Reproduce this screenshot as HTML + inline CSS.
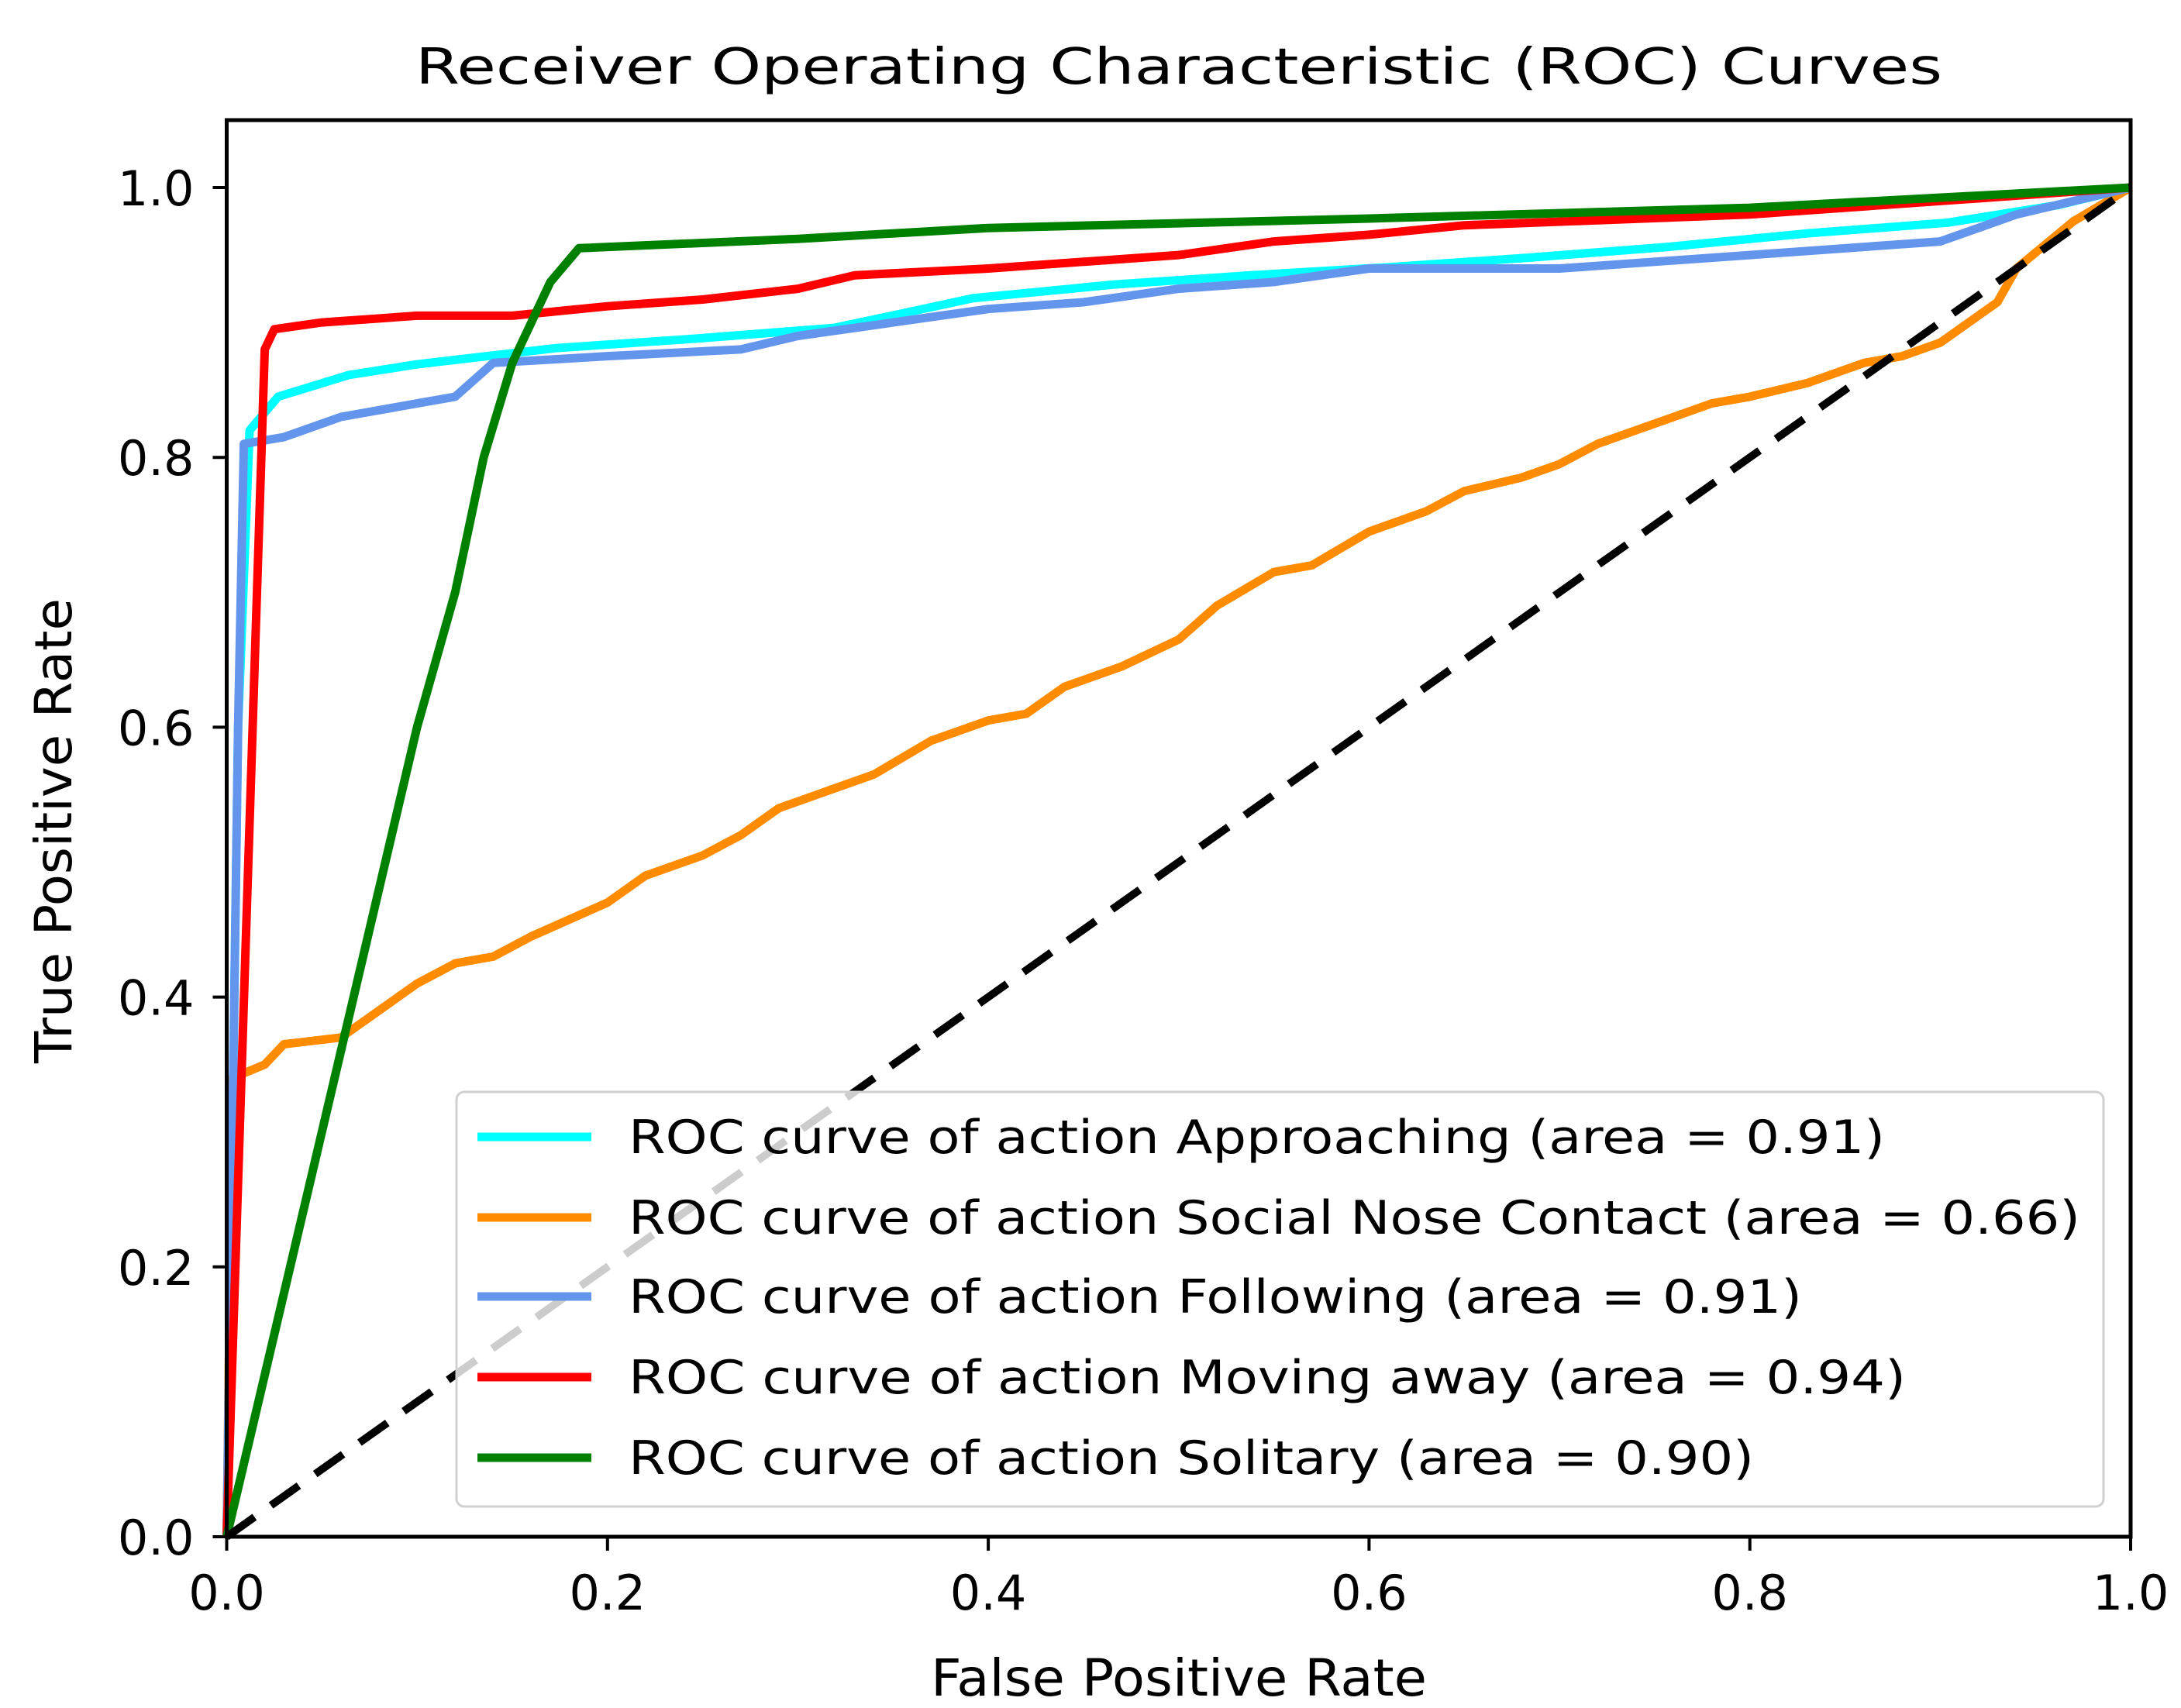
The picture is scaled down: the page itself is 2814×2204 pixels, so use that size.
<!DOCTYPE html>
<html><head><meta charset="utf-8"><style>
html,body{margin:0;padding:0;background:#fff;}
svg{display:block;font-family:"DejaVu Sans","Liberation Sans",sans-serif;}
</style></head><body>
<svg id="chart" width="2814" height="2204" viewBox="0 0 2814 2204" xmlns="http://www.w3.org/2000/svg">
<rect x="0" y="0" width="2814" height="2204" fill="#fff"/>
<text x="1521" y="108" font-size="64" text-anchor="middle" textLength="1970" lengthAdjust="spacingAndGlyphs">Receiver Operating Characteristic (ROC) Curves</text>
<g id="plot"></g>
<g id="axes"></g>
<g id="legend"></g>
<text x="1521" y="2188" font-size="66" text-anchor="middle" textLength="640" lengthAdjust="spacingAndGlyphs">False Positive Rate</text>
<text x="0" y="0" font-size="66" text-anchor="middle" textLength="600" lengthAdjust="spacingAndGlyphs" transform="translate(92,1072) rotate(-90)">True Positive Rate</text>
</svg>
<script>
const xTicks = [0, 0.2, 0.4, 0.6, 0.8, 1.0];
const yTicks = [0, 0.2, 0.4, 0.6, 0.8, 1.0];
const tickLabels = ["0.0", "0.2", "0.4", "0.6", "0.8", "1.0"];
const seriesNames = ["Approaching", "Social Nose Contact", "Following", "Moving away", "Solitary"];
const seriesAreas = ["0.91", "0.66", "0.91", "0.94", "0.90"];
const seriesColors = ["#00ffff", "#ff8c00", "#6495ed", "#ff0000", "#008000"];
const approachingX = [0, 0.006, 0.012, 0.027, 0.064, 0.1, 0.173, 0.246, 0.319, 0.356, 0.392, 0.465, 0.538, 0.611, 0.684, 0.757, 0.83, 0.904, 0.962, 1];
const approachingY = [0, 0.6, 0.82, 0.845, 0.861, 0.869, 0.881, 0.888, 0.896, 0.907, 0.918, 0.928, 0.935, 0.941, 0.948, 0.956, 0.966, 0.974, 0.987, 1];
const noseX = [0, 0.003, 0.02, 0.03, 0.06, 0.08, 0.1, 0.12, 0.14, 0.16, 0.2, 0.22, 0.25, 0.27, 0.29, 0.32, 0.34, 0.37, 0.4, 0.42, 0.44, 0.47, 0.5, 0.52, 0.55, 0.57, 0.6, 0.63, 0.65, 0.68, 0.7, 0.72, 0.75, 0.78, 0.8, 0.83, 0.86, 0.88, 0.9, 0.93, 0.94, 0.97, 1];
const noseY = [0, 0.34, 0.35, 0.365, 0.37, 0.39, 0.41, 0.425, 0.43, 0.445, 0.47, 0.49, 0.505, 0.52, 0.54, 0.555, 0.565, 0.59, 0.605, 0.61, 0.63, 0.645, 0.665, 0.69, 0.715, 0.72, 0.745, 0.76, 0.775, 0.785, 0.795, 0.81, 0.825, 0.84, 0.845, 0.855, 0.87, 0.875, 0.885, 0.915, 0.94, 0.975, 1];
const followingX = [0, 0.006, 0.009, 0.03, 0.06, 0.1, 0.12, 0.14, 0.2, 0.27, 0.3, 0.35, 0.4, 0.45, 0.5, 0.55, 0.6, 0.7, 0.8, 0.9, 0.94, 1];
const followingY = [0, 0.6, 0.81, 0.815, 0.83, 0.84, 0.845, 0.87, 0.875, 0.88, 0.89, 0.9, 0.91, 0.915, 0.925, 0.93, 0.94, 0.94, 0.95, 0.96, 0.98, 1];
const movingX = [0, 0.02, 0.025, 0.05, 0.1, 0.15, 0.2, 0.25, 0.3, 0.33, 0.4, 0.5, 0.55, 0.6, 0.65, 0.8, 0.9, 1];
const movingY = [0, 0.88, 0.895, 0.9, 0.905, 0.905, 0.912, 0.917, 0.925, 0.935, 0.94, 0.95, 0.96, 0.965, 0.972, 0.98, 0.99, 1];
const solitaryX = [0, 0.1, 0.12, 0.135, 0.15, 0.17, 0.185, 0.3, 0.4, 0.6, 0.8, 1];
const solitaryY = [0, 0.6, 0.7, 0.8, 0.87, 0.93, 0.955, 0.962, 0.97, 0.977, 0.985, 1];
const diagX = [0, 1];
const diagY = [0, 1];

const NS = "http://www.w3.org/2000/svg";
const L = 292.5, R = 2749, T = 155, B = 1983;
const sx = v => L + v * (R - L);
const sy = v => B - v * (1741);
function mk(tag, attrs, parent) {
  const e = document.createElementNS(NS, tag);
  for (const k in attrs) e.setAttribute(k, attrs[k]);
  parent.appendChild(e);
  return e;
}
const plot = document.getElementById('plot');
const axes = document.getElementById('axes');
const legend = document.getElementById('legend');
const xs = [approachingX, noseX, followingX, movingX, solitaryX];
const ys = [approachingY, noseY, followingY, movingY, solitaryY];
const keys = ["approaching", "social-nose-contact", "following", "moving-away", "solitary"];
for (let i = 0; i < 5; i++) {
  const pts = xs[i].map((x, j) => sx(x).toFixed(1) + "," + sy(ys[i][j]).toFixed(1)).join(" ");
  const pl = mk('polyline', {points: pts, fill: 'none', stroke: seriesColors[i], 'stroke-width': 11, 'stroke-linejoin': 'round'}, plot);
  
  
}
const dg = mk('polyline', {points: diagX.map((x, j) => sx(x) + "," + sy(diagY[j])).join(" "), fill: 'none', stroke: '#000', 'stroke-width': 10, 'stroke-dasharray': '44 26'}, plot);



const fr = mk('rect', {x: L, y: T, width: R - L, height: B - T, fill: 'none', stroke: '#000', 'stroke-width': 5}, axes);


for (let i = 0; i < xTicks.length; i++) {
  const x = sx(xTicks[i]);
  const t = mk('line', {x1: x, y1: B, x2: x, y2: B + 18, stroke: '#000', 'stroke-width': 4}, axes);
  
  
  const tl = mk('text', {x: x, y: B + 94, 'font-size': 62, 'text-anchor': 'middle'}, axes);
  tl.textContent = tickLabels[i];
  
  
}
for (let i = 0; i < yTicks.length; i++) {
  const y = sy(yTicks[i]);
  const t = mk('line', {x1: L - 18, y1: y, x2: L, y2: y, stroke: '#000', 'stroke-width': 4}, axes);
  
  
  const tl = mk('text', {x: L - 42, y: y + 23, 'font-size': 62, 'text-anchor': 'end'}, axes);
  tl.textContent = tickLabels[i];
  
  
}
const lb = mk('rect', {x: 589, y: 1409, width: 2125, height: 535, rx: 10, fill: 'rgba(255,255,255,0.8)', stroke: '#d0d0d0', 'stroke-width': 3}, legend);


const rowY = [1467, 1571, 1673, 1777, 1881];
const textLens = [1621, 1873, 1514, 1648, 1452];
for (let i = 0; i < 5; i++) {
  const y = rowY[i];
  const h = mk('line', {x1: 616, y1: y, x2: 763, y2: y, stroke: seriesColors[i], 'stroke-width': 11}, legend);
  
  
  const tx = mk('text', {x: 811, y: y + 21, 'font-size': 60, textLength: textLens[i], lengthAdjust: 'spacingAndGlyphs'}, legend);
  tx.textContent = 'ROC curve of action ' + seriesNames[i] + ' (area = ' + seriesAreas[i] + ')';
  
  
}
</script>
</body></html>
